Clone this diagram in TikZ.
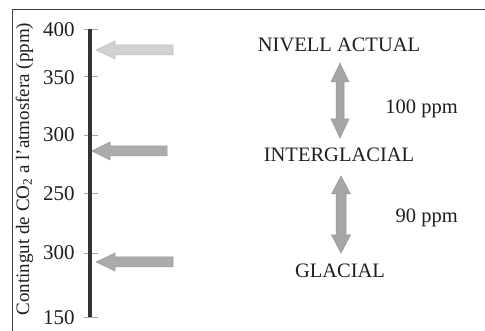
\documentclass[tikz,border=0pt]{standalone}
\usepackage{fontspec}
\setmainfont{Liberation Serif}
\begin{document}
\begin{tikzpicture}[x=1pt,y=-1pt,
  frameline/.style={draw=black!75,line width=0.8pt},
  axisbar/.style={draw=black!80,line width=3.6pt},
  tickmark/.style={draw=black!35,line width=0.7pt},
  ticklabel/.style={anchor=base west,inner sep=0pt,font=\fontsize{21}{21}\selectfont,text=black!88},
  level/.style={anchor=base,inner sep=0pt,font=\fontsize{20.5}{21}\selectfont,text=black!88},
  gap/.style={anchor=base east,inner sep=0pt,font=\fontsize{20.5}{21}\selectfont,text=black!88},
  pointerlight/.style={fill=black!18,draw=black!25,line width=0.5pt},
  pointerdark/.style={fill=black!33,draw=black!40,line width=0.5pt},
  span/.style={fill=black!35,draw=black!42,line width=0.5pt}]
\useasboundingbox (0,0) rectangle (485,331);
\fill[white] (0,0) rectangle (485,331);

% frame (top and left edges)
\coordinate (fc) at (12,9);
\draw[frameline] (485,9) -- (fc) -- (12,331);

% axis with ticks
\coordinate (axtop) at (90,29);
\coordinate (axbot) at (90,317);
\foreach \yy in {29,76,135,193,253,317}
  \draw[tickmark] (84,\yy) -- (98,\yy);
\draw[axisbar] (axtop) -- (axbot);

\node[ticklabel] (t400) at (43,37) {400};
\node[ticklabel] (t350) at (43,85) {350};
\node[ticklabel] (t300a) at (43,142) {300};
\node[ticklabel] (t250) at (43,201) {250};
\node[ticklabel] (t300b) at (43,260) {300};
\node[ticklabel] (t150) at (43,325) {150};

% axis title
\node[anchor=base,rotate=90,inner sep=0pt,font=\fontsize{19}{19}\selectfont,text=black!88]
  (ytitle) at (29,169) {Contingut de CO\textsubscript{2} a l’atmosfera (ppm)};

% pointers to the axis
\coordinate (p1) at (96,50);
\coordinate (p2) at (92,151);
\coordinate (p3) at (96,262);
\path[pointerlight] (p1) -- ++(19,-9) -- ++(0,4) -- (173,45) -- (173,55) -- ++(-58,0) -- ++(0,4) -- cycle;
\path[pointerdark] (p2) -- ++(18,-9) -- ++(0,4) -- (167,146) -- (167,156) -- ++(-57,0) -- ++(0,4) -- cycle;
\path[pointerdark] (p3) -- ++(19,-9) -- ++(0,4) -- (173,257) -- (173,267) -- ++(-58,0) -- ++(0,4) -- cycle;

% levels
\node[level] (actual) at (339,52) {NIVELL ACTUAL};
\node[level] (inter) at (339,162) {INTERGLACIAL};
\node[level] (glacial) at (340,278) {GLACIAL};

% double arrows between levels
\coordinate (a1) at (340,63);
\coordinate (b1) at (340,138);
\path[span] (a1) -- ++(9,19) -- ++(-5,0) -- (344,119) -- ++(5,0) -- (b1)
  -- ++(-9,-19) -- ++(5,0) -- (336,82) -- ++(-5,0) -- cycle;
\coordinate (a2) at (341,176);
\coordinate (b2) at (341,253);
\path[span] (a2) -- ++(9.5,18) -- ++(-4.5,0) -- (346,235) -- ++(4.5,0) -- (b2)
  -- ++(-9.5,-18) -- ++(4.5,0) -- (336,194) -- ++(-4.5,0) -- cycle;

\node[gap] (d1) at (458,114) {100 ppm};
\node[gap] (d2) at (458,223) {90 ppm};
\end{tikzpicture}
\end{document}
